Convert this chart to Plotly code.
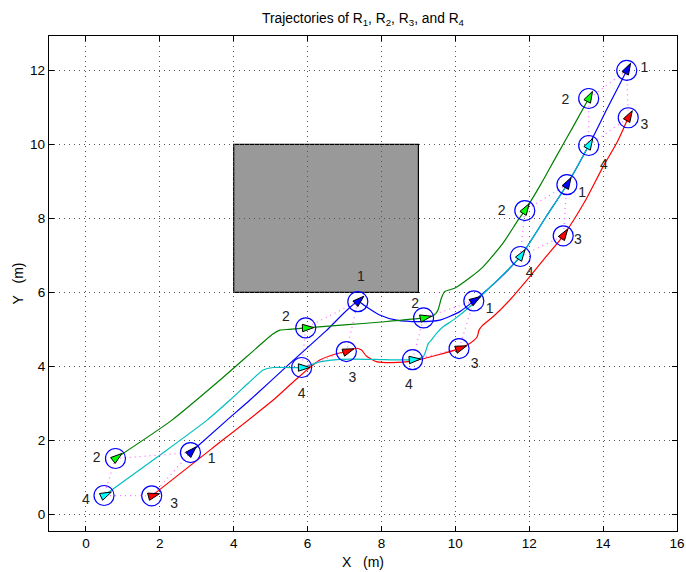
import math
import plotly.graph_objects as go

# ---------------- data ----------------
# full trajectories
r1_x = [2.83, 3.81, 4.44, 5.5, 6.5, 7.36, 7.59, 7.95, 8.41, 9.04, 9.58, 10.12, 10.5, 11.2, 11.76, 12.46, 13.02, 13.61, 14.1, 14.64]
r1_y = [1.67, 2.54, 3.09, 4.06, 4.96, 5.75, 5.61, 5.39, 5.25, 5.21, 5.25, 5.48, 5.77, 6.38, 6.97, 8.05, 8.91, 9.97, 10.95, 12.0]

r2_x = [0.80, 2.32, 3.63, 4.6, 5.05, 5.25, 5.5, 5.95, 7.0, 8.0, 9.14, 9.40, 9.52, 9.62, 9.71, 9.98, 10.4, 10.75, 11.29, 11.70, 11.88, 12.3, 12.73, 13.2, 13.61]
r2_y = [1.51, 2.54, 3.63, 4.48, 4.87, 4.98, 5.0, 5.04, 5.12, 5.2, 5.31, 5.37, 5.5, 5.84, 6.02, 6.11, 6.4, 6.69, 7.33, 7.96, 8.21, 8.9, 9.67, 10.5, 11.24]

r3_x = [1.78, 3.4, 5.07, 5.70, 6.33, 6.78, 7.05, 7.32, 7.46, 7.59, 7.86, 8.3, 8.84, 9.49, 10.10, 10.39, 10.59, 10.64, 10.75, 11.02, 11.47, 12.01, 12.46, 12.92, 13.5, 14.0, 14.4, 14.68]
r3_y = [0.50, 1.77, 3.09, 3.66, 4.17, 4.34, 4.40, 4.49, 4.44, 4.28, 4.13, 4.10, 4.14, 4.30, 4.48, 4.62, 4.80, 4.98, 5.12, 5.34, 5.79, 6.42, 6.97, 7.53, 8.45, 9.40, 10.1, 10.72]

r4_x = [0.49, 2.0, 3.27, 3.90, 4.4, 4.80, 5.07, 5.84, 6.33, 6.87, 7.8, 8.84, 9.13, 9.27, 9.35, 9.49, 9.67, 9.94, 10.39, 11.0, 11.76, 12.46, 13.02, 13.61]
r4_y = [0.51, 1.6, 2.54, 3.09, 3.55, 3.90, 3.97, 3.97, 4.12, 4.19, 4.19, 4.18, 4.26, 4.62, 4.71, 4.89, 5.07, 5.25, 5.61, 6.2, 6.97, 8.05, 8.91, 9.97]

# robot poses at the five snapshots
s1_x = [2.83, 7.36, 10.50, 13.02, 14.64]
s1_y = [1.67, 5.75, 5.77, 8.91, 12.00]
s2_x = [0.80, 5.95, 9.14, 11.88, 13.61]
s2_y = [1.51, 5.04, 5.31, 8.21, 11.24]
s3_x = [1.78, 7.05, 10.10, 12.92, 14.68]
s3_y = [0.50, 4.40, 4.48, 7.53, 10.72]
s4_x = [0.49, 5.84, 8.84, 11.76, 13.61]
s4_y = [0.51, 3.97, 4.18, 6.97, 9.97]

# headings (degrees, counter-clockwise from +X)
h1 = [45, 42, 32, 60, 62]
h2 = [38, 2, 12, 58, 62]
h3 = [15, 20, 20, 56, 60]
h4 = [25, 0, 5, 56, 60]

# label positions
l1_x = [3.40, 7.44, 10.93, 13.43, 15.12]
l1_y = [1.48, 6.39, 5.55, 8.68, 12.05]
l2_x = [0.29, 5.41, 8.91, 11.25, 12.98]
l2_y = [1.51, 5.31, 5.68, 8.18, 11.20]
l3_x = [2.39, 7.21, 10.52, 13.32, 15.12]
l3_y = [0.26, 3.67, 4.05, 7.40, 10.52]
l4_x = [0.00, 5.84, 8.74, 12.01, 14.02]
l4_y = [0.38, 3.25, 3.49, 6.52, 9.42]
robot_names = ["1", "2", "3", "4"]

# obstacle
obs_x = [4, 9]
obs_y = [6, 10]

x_ticks = list(range(0, 17, 2))
y_ticks = list(range(0, 13, 2))

# ---------------- figure ----------------
FONT = "Liberation Sans, Arial"
line_colors = ["#0000FF", "#008000", "#FF0000", "#00BFBF"]
fill_colors = ["#0000FF", "#00FF00", "#FF0000", "#00FFFF"]

trajs = [(r1_x, r1_y), (r2_x, r2_y), (r3_x, r3_y), (r4_x, r4_y)]
snaps = [(s1_x, s1_y), (s2_x, s2_y), (s3_x, s3_y), (s4_x, s4_y)]
heads = [h1, h2, h3, h4]
labels = [(l1_x, l1_y), (l2_x, l2_y), (l3_x, l3_y), (l4_x, l4_y)]

fig = go.Figure()

for (tx, ty), c in zip(trajs, line_colors):
    fig.add_trace(go.Scatter(x=tx, y=ty, mode="lines",
                             line=dict(color=c, width=1.2, shape="spline", smoothing=0.6),
                             hoverinfo="skip", showlegend=False))

# formation edges (dotted magenta): 1-2, 2-4, 4-3, 3-1
order = [0, 1, 3, 2, 0]
for k in range(len(s1_x)):
    ex = [snaps[i][0][k] for i in order]
    ey = [snaps[i][1][k] for i in order]
    fig.add_trace(go.Scatter(x=ex, y=ey, mode="lines",
                             line=dict(color="#FF66FF", width=1.2, dash="1px,4px"),
                             hoverinfo="skip", showlegend=False))

# circles
for sx, sy in snaps:
    fig.add_trace(go.Scatter(x=sx, y=sy, mode="markers",
                             marker=dict(symbol="circle-open", size=20,
                                         line=dict(color="#0000FF", width=1.2), color="#0000FF"),
                             hoverinfo="skip", showlegend=False))

# heading arrows (tip shifted forward along heading)
d = 0.22
for (sx, sy), hh, fc in zip(snaps, heads, fill_colors):
    ax = [x + d * math.cos(math.radians(h)) for x, h in zip(sx, hh)]
    ay = [y + d * math.sin(math.radians(h)) for y, h in zip(sy, hh)]
    fig.add_trace(go.Scatter(x=ax, y=ay, mode="markers",
                             marker=dict(symbol="arrow", size=12, angle=[90 - h for h in hh],
                                         color=fc, line=dict(color="black", width=1)),
                             hoverinfo="skip", showlegend=False))

# labels
for (lx, ly), name in zip(labels, robot_names):
    fig.add_trace(go.Scatter(x=lx, y=ly, mode="text", text=[name] * len(lx),
                             textposition="middle center",
                             textfont=dict(family=FONT, size=14, color="#222"),
                             hoverinfo="skip", showlegend=False))

fig.add_shape(type="rect", x0=obs_x[0], x1=obs_x[1], y0=obs_y[0], y1=obs_y[1],
              fillcolor="#999999", line=dict(color="black", width=1.2), layer="below")

axis_common = dict(
    showline=True, linecolor="black", linewidth=1.3, mirror="ticks",
    ticks="inside", ticklen=5, tickcolor="black", tickwidth=1,
    showgrid=True, gridcolor="#555555", griddash="1px,4px", gridwidth=1,
    zeroline=False, automargin=False,
    tickfont=dict(family=FONT, size=13.5, color="black"),
)

fig.update_layout(
    width=686, height=572,
    margin=dict(l=49, r=9, t=36, b=41, autoexpand=False),
    paper_bgcolor="white", plot_bgcolor="white",
    xaxis=dict(range=[-1, 16], tickvals=x_ticks, **axis_common),
    yaxis=dict(range=[-0.45, 12.93], tickvals=y_ticks, **axis_common),
    title=dict(text="Trajectories of R<sub>1</sub>, R<sub>2</sub>, R<sub>3</sub>, and R<sub>4</sub>",
               x=0.5, xref="paper", y=1 - 18 / 572, yref="container", yanchor="middle",
               font=dict(family=FONT, size=13.8, color="black")),
    font=dict(family=FONT, color="black"),
    annotations=[
        dict(text="X\u00a0\u00a0\u00a0(m)", x=0.5, xref="paper", y=-31 / 495, yref="paper",
             yanchor="middle", showarrow=False,
             font=dict(family=FONT, size=14, color="black")),
        dict(text="Y\u00a0\u00a0\u00a0(m)", x=-32 / 628, xref="paper", y=0.5, yref="paper",
             xanchor="center", textangle=-90, showarrow=False,
             font=dict(family=FONT, size=14, color="black")),
    ],
)

fig.write_html("out.html")
